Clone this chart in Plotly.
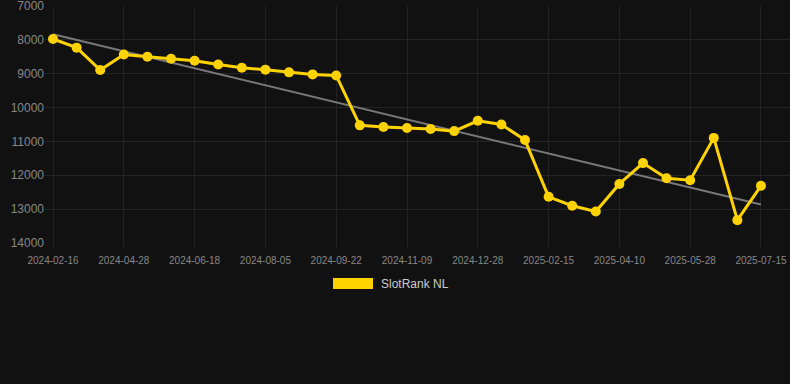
import numpy as np
import plotly.graph_objects as go

dates = [
    "2024-02-16", "2024-03-10", "2024-04-04", "2024-04-28", "2024-05-15", "2024-06-01",
    "2024-06-18", "2024-07-04", "2024-07-20", "2024-08-05", "2024-08-21", "2024-09-06",
    "2024-09-22", "2024-10-08", "2024-10-24", "2024-11-09", "2024-11-25", "2024-12-12",
    "2024-12-28", "2025-01-13", "2025-01-30", "2025-02-15", "2025-03-05", "2025-03-23",
    "2025-04-10", "2025-04-26", "2025-05-12", "2025-05-28", "2025-06-13", "2025-06-29",
    "2025-07-15",
]
rank = [
    7975, 8230, 8890, 8430, 8500, 8560, 8615, 8725, 8825, 8880, 8960, 9020, 9050,
    10525, 10575, 10605, 10635, 10695, 10390, 10500, 10960, 12635, 12900, 13070,
    12255, 11640, 12085, 12145, 10895, 13325, 12310,
]
tick_dates = dates[::3]
y_ticks = [7000, 8000, 9000, 10000, 11000, 12000, 13000, 14000]
series_name = "SlotRank NL"

idx = np.arange(len(rank))
slope, intercept = np.polyfit(idx, rank, 1)
trend = (intercept + slope * idx).tolist()

fig = go.Figure()
fig.add_trace(go.Scatter(
    x=dates, y=trend, mode="lines",
    line=dict(color="#787878", width=2),
    hoverinfo="skip", showlegend=False,
))
fig.add_trace(go.Scatter(
    x=dates, y=rank, mode="lines+markers", name=series_name,
    line=dict(color="#FFD200", width=3),
    marker=dict(color="#FFD200", size=10),
    showlegend=False,
))

fig.update_layout(
    width=790, height=384,
    margin=dict(l=45, r=0, t=6, b=141),
    paper_bgcolor="#111111", plot_bgcolor="#111111",
    font=dict(family="Arial, Liberation Sans, sans-serif", color="#888888"),
    xaxis=dict(
        type="category", categoryorder="array", categoryarray=dates,
        tickmode="array", tickvals=tick_dates, ticktext=tick_dates,
        range=[-0.34, 31.23],
        showgrid=True, gridcolor="#222222", gridwidth=1,
        ticks="outside", ticklen=5, tickcolor="#222222",
        ticklabelstandoff=3,
        tickfont=dict(size=10, color="#888888"),
        zeroline=False, showline=False,
    ),
    yaxis=dict(
        range=[14000, 6999.5],
        tickmode="array", tickvals=y_ticks, ticktext=[str(v) for v in y_ticks],
        showgrid=True, gridcolor="#252525", gridwidth=1,
        tickfont=dict(size=12, color="#888888"),
        ticklabeloverflow="allow",
        ticks="", zeroline=False, showline=False,
    ),
    shapes=[dict(
        type="rect", xref="paper", yref="paper",
        x0=0.3866, x1=0.4403, y0=-0.1941, y1=-0.1477,
        fillcolor="#FFD200", line=dict(width=0),
    )],
    annotations=[dict(
        xref="paper", yref="paper", x=0.4483, y=-0.172,
        xanchor="left", yanchor="middle", showarrow=False,
        text=series_name, font=dict(size=12, color="#cccccc"),
    )],
)

fig.write_html(
    "out.html",
    config={"displayModeBar": False},
    post_script="document.body.style.margin='0';document.body.style.background='#111111';",
)
